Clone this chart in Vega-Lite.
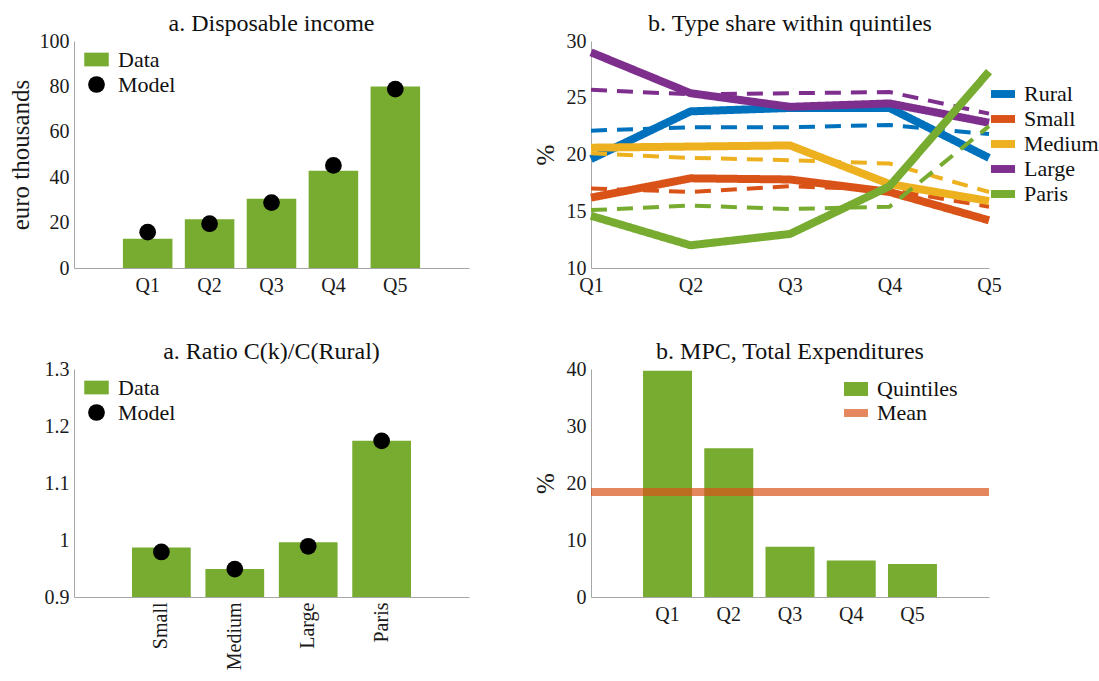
{
  "$schema": "https://vega.github.io/schema/vega-lite/v6.json",
  "background": "white",
  "padding": {"left": 8, "top": 12, "right": 0, "bottom": 0},
  "autosize": {"type": "pad"},
  "config": {
    "font": "Liberation Serif",
    "view": {"stroke": null},
    "axis": {
      "domainColor": "#A6A6A6", "domainWidth": 1, "ticks": false, "grid": false,
      "labelFont": "Liberation Serif", "labelFontSize": 20, "labelColor": "#1a1a1a",
      "titleFont": "Liberation Serif", "titleFontSize": 25, "titleFontWeight": "normal", "titleColor": "#1a1a1a",
      "labelPadding": 5, "labelFlush": false, "labelOverlap": false
    },
    "title": {"font": "Liberation Serif", "fontSize": 24, "fontWeight": "normal", "color": "#111", "anchor": "middle", "offset": -5},
    "legend": {"labelFont": "Liberation Serif", "labelFontSize": 22, "labelColor": "#111", "title": null}
  },
  "columns": 2,
  "spacing": {"row": 101, "column": 122},
  "bounds": "flush",
  "resolve": {
    "scale": {"color": "independent", "x": "independent", "y": "independent", "strokeDash": "independent", "strokeWidth": "independent"},
    "legend": {"color": "independent"}
  },
  "concat": [
    {
      "width": 395, "height": 227,
      "title": "a. Disposable income",
      "data": {"values": [
        {"q": "Q1", "data": 12.9, "model": 15.8},
        {"q": "Q2", "data": 21.5, "model": 19.5},
        {"q": "Q3", "data": 30.5, "model": 28.8},
        {"q": "Q4", "data": 42.8, "model": 45.2},
        {"q": "Q5", "data": 80.0, "model": 78.8}
      ]},
      "encoding": {
        "x": {"field": "q", "type": "nominal", "scale": {"paddingInner": 0.2, "paddingOuter": 0.79}, "axis": {"title": null, "labelAngle": 0, "labelPadding": 7}}
      },
      "layer": [
        {
          "mark": {"type": "bar"},
          "encoding": {
            "y": {"field": "data", "type": "quantitative", "scale": {"domain": [0, 100]}, "axis": {"values": [0, 20, 40, 60, 80, 100], "title": "euro thousands", "titlePadding": 6}},
            "color": {"datum": "Data", "type": "nominal", "scale": {"domain": ["Data", "Model"], "range": ["#77AC30", "#000000"]},
              "legend": {"orient": "none", "legendX": 10, "legendY": 6, "labelOffset": 9, "rowPadding": 1,
                "encode": {"symbols": {"update": {
                  "shape": {"signal": "datum.value === 'Model' ? 'circle' : 'M-1,-0.56H1V0.56H-1Z'"},
                  "size": {"signal": "datum.value === 'Model' ? 280 : 600"},
                  "opacity": {"value": 1}, "strokeWidth": {"value": 0}}}}}}
          }
        },
        {
          "mark": {"type": "point", "filled": true, "size": 280, "opacity": 1},
          "encoding": {
            "y": {"field": "model", "type": "quantitative"},
            "color": {"datum": "Model", "type": "nominal"}
          }
        }
      ]
    },
    {
      "width": 398, "height": 227,
      "title": "b. Type share within quintiles",
      "data": {"values": [
        {"q": "Q1", "type": "Rural", "kind": "Data", "v": 19.6},
        {"q": "Q2", "type": "Rural", "kind": "Data", "v": 23.8},
        {"q": "Q3", "type": "Rural", "kind": "Data", "v": 24.1},
        {"q": "Q4", "type": "Rural", "kind": "Data", "v": 24.1},
        {"q": "Q5", "type": "Rural", "kind": "Data", "v": 19.7},
        {"q": "Q1", "type": "Rural", "kind": "Model", "v": 22.1},
        {"q": "Q2", "type": "Rural", "kind": "Model", "v": 22.4},
        {"q": "Q3", "type": "Rural", "kind": "Model", "v": 22.4},
        {"q": "Q4", "type": "Rural", "kind": "Model", "v": 22.6},
        {"q": "Q5", "type": "Rural", "kind": "Model", "v": 21.8},
        {"q": "Q1", "type": "Small", "kind": "Data", "v": 16.2},
        {"q": "Q2", "type": "Small", "kind": "Data", "v": 17.9},
        {"q": "Q3", "type": "Small", "kind": "Data", "v": 17.8},
        {"q": "Q4", "type": "Small", "kind": "Data", "v": 16.7},
        {"q": "Q5", "type": "Small", "kind": "Data", "v": 14.2},
        {"q": "Q1", "type": "Small", "kind": "Model", "v": 17.0},
        {"q": "Q2", "type": "Small", "kind": "Model", "v": 16.7},
        {"q": "Q3", "type": "Small", "kind": "Model", "v": 17.2},
        {"q": "Q4", "type": "Small", "kind": "Model", "v": 16.9},
        {"q": "Q5", "type": "Small", "kind": "Model", "v": 15.4},
        {"q": "Q1", "type": "Medium", "kind": "Data", "v": 20.6},
        {"q": "Q2", "type": "Medium", "kind": "Data", "v": 20.7},
        {"q": "Q3", "type": "Medium", "kind": "Data", "v": 20.8},
        {"q": "Q4", "type": "Medium", "kind": "Data", "v": 17.4},
        {"q": "Q5", "type": "Medium", "kind": "Data", "v": 15.9},
        {"q": "Q1", "type": "Medium", "kind": "Model", "v": 20.1},
        {"q": "Q2", "type": "Medium", "kind": "Model", "v": 19.7},
        {"q": "Q3", "type": "Medium", "kind": "Model", "v": 19.5},
        {"q": "Q4", "type": "Medium", "kind": "Model", "v": 19.2},
        {"q": "Q5", "type": "Medium", "kind": "Model", "v": 16.7},
        {"q": "Q1", "type": "Large", "kind": "Data", "v": 29.0},
        {"q": "Q2", "type": "Large", "kind": "Data", "v": 25.4},
        {"q": "Q3", "type": "Large", "kind": "Data", "v": 24.2},
        {"q": "Q4", "type": "Large", "kind": "Data", "v": 24.5},
        {"q": "Q5", "type": "Large", "kind": "Data", "v": 22.8},
        {"q": "Q1", "type": "Large", "kind": "Model", "v": 25.7},
        {"q": "Q2", "type": "Large", "kind": "Model", "v": 25.3},
        {"q": "Q3", "type": "Large", "kind": "Model", "v": 25.4},
        {"q": "Q4", "type": "Large", "kind": "Model", "v": 25.5},
        {"q": "Q5", "type": "Large", "kind": "Model", "v": 23.6},
        {"q": "Q1", "type": "Paris", "kind": "Data", "v": 14.6},
        {"q": "Q2", "type": "Paris", "kind": "Data", "v": 12.0},
        {"q": "Q3", "type": "Paris", "kind": "Data", "v": 13.0},
        {"q": "Q4", "type": "Paris", "kind": "Data", "v": 17.2},
        {"q": "Q5", "type": "Paris", "kind": "Data", "v": 27.3},
        {"q": "Q1", "type": "Paris", "kind": "Model", "v": 15.1},
        {"q": "Q2", "type": "Paris", "kind": "Model", "v": 15.5},
        {"q": "Q3", "type": "Paris", "kind": "Model", "v": 15.2},
        {"q": "Q4", "type": "Paris", "kind": "Model", "v": 15.4},
        {"q": "Q5", "type": "Paris", "kind": "Model", "v": 22.5}
      ]},
      "mark": {"type": "line", "strokeCap": "butt", "strokeJoin": "miter"},
      "encoding": {
        "x": {"field": "q", "type": "ordinal", "scale": {"type": "point", "padding": 0}, "axis": {"title": null, "labelAngle": 0, "labelPadding": 7}},
        "y": {"field": "v", "type": "quantitative", "scale": {"domain": [10, 30]}, "axis": {"values": [10, 15, 20, 25, 30], "title": "%", "titlePadding": 8}},
        "color": {"field": "type", "type": "nominal",
          "scale": {"domain": ["Rural", "Small", "Medium", "Large", "Paris"], "range": ["#0072BD", "#D95319", "#EDB120", "#7E2F8E", "#77AC30"]},
          "legend": {"orient": "none", "legendX": 400, "legendY": 41, "symbolType": "M-1,-0.33H1V0.33H-1Z", "symbolStrokeWidth": 0, "symbolSize": 576, "labelOffset": 9, "rowPadding": 2,
            "encode": {"symbols": {"update": {
              "fill": {"signal": "datum.value === 'Rural' ? '#0072BD' : datum.value === 'Small' ? '#D95319' : datum.value === 'Medium' ? '#EDB120' : datum.value === 'Large' ? '#7E2F8E' : '#77AC30'"},
              "fillOpacity": {"value": 1},
              "strokeWidth": {"value": 0},
              "strokeDash": {"value": [1, 0]}}}}}},
        "strokeDash": {"field": "kind", "type": "nominal", "scale": {"domain": ["Data", "Model"], "range": [[1, 0], [16, 10]]}, "legend": null},
        "strokeWidth": {"field": "kind", "type": "nominal", "scale": {"domain": ["Data", "Model"], "range": [8, 4]}, "legend": null},
        "detail": {"field": "kind"}
      }
    },
    {
      "width": 395, "height": 228,
      "title": "a. Ratio C(k)/C(Rural)",
      "data": {"values": [
        {"k": "Small", "data": 0.987, "model": 0.979},
        {"k": "Medium", "data": 0.949, "model": 0.949},
        {"k": "Large", "data": 0.996, "model": 0.989},
        {"k": "Paris", "data": 1.174, "model": 1.174}
      ]},
      "encoding": {
        "x": {"field": "k", "type": "nominal", "sort": ["Small", "Medium", "Large", "Paris"], "scale": {"paddingInner": 0.2, "paddingOuter": 0.79}, "axis": {"title": null, "labelAngle": -90, "labelPadding": 5}}
      },
      "layer": [
        {
          "mark": {"type": "bar"},
          "encoding": {
            "y": {"field": "data", "type": "quantitative", "scale": {"domain": [0.9, 1.3], "zero": false}, "axis": {"values": [0.9, 1.0, 1.1, 1.2, 1.3], "format": ".1~f", "title": null}},
            "y2": {"datum": 0.9},
            "color": {"datum": "Data", "type": "nominal", "scale": {"domain": ["Data", "Model"], "range": ["#77AC30", "#000000"]},
              "legend": {"orient": "none", "legendX": 10, "legendY": 6, "labelOffset": 9, "rowPadding": 1,
                "encode": {"symbols": {"update": {
                  "shape": {"signal": "datum.value === 'Model' ? 'circle' : 'M-1,-0.56H1V0.56H-1Z'"},
                  "size": {"signal": "datum.value === 'Model' ? 280 : 600"},
                  "opacity": {"value": 1}, "strokeWidth": {"value": 0}}}}}}
          }
        },
        {
          "mark": {"type": "point", "filled": true, "size": 280, "opacity": 1},
          "encoding": {
            "y": {"field": "model", "type": "quantitative"},
            "color": {"datum": "Model", "type": "nominal"}
          }
        }
      ]
    },
    {
      "width": 398, "height": 228,
      "title": "b. MPC, Total Expenditures",
      "layer": [
        {
          "data": {"values": [
            {"q": "Q1", "mpc": 39.7},
            {"q": "Q2", "mpc": 26.1},
            {"q": "Q3", "mpc": 8.8},
            {"q": "Q4", "mpc": 6.4},
            {"q": "Q5", "mpc": 5.8}
          ]},
          "mark": {"type": "bar"},
          "encoding": {
            "x": {"field": "q", "type": "nominal", "scale": {"paddingInner": 0.2, "paddingOuter": 0.85}, "axis": {"title": null, "labelAngle": 0, "labelPadding": 7}},
            "y": {"field": "mpc", "type": "quantitative", "scale": {"domain": [0, 40]}, "axis": {"values": [0, 10, 20, 30, 40], "title": "%", "titlePadding": 8}},
            "color": {"datum": "Quintiles", "type": "nominal", "scale": {"domain": ["Quintiles", "Mean"], "range": ["#77AC30", "#E4865E"]},
              "legend": {"orient": "none", "legendX": 253, "legendY": 8, "labelOffset": 9, "rowPadding": 1,
                "encode": {"symbols": {"update": {
                  "shape": {"signal": "datum.value === 'Mean' ? 'M-1,-0.33H1V0.33H-1Z' : 'M-1,-0.58H1V0.58H-1Z'"},
                  "size": {"value": 576},
                  "opacity": {"value": 1}, "strokeWidth": {"value": 0}}}}}}
          }
        },
        {
          "data": {"values": [{"mean": 18.4}]},
          "mark": {"type": "rule", "color": "#D95319", "opacity": 0.7, "strokeWidth": 8},
          "encoding": {
            "y": {"field": "mean", "type": "quantitative"}
          }
        }
      ]
    }
  ]
}
